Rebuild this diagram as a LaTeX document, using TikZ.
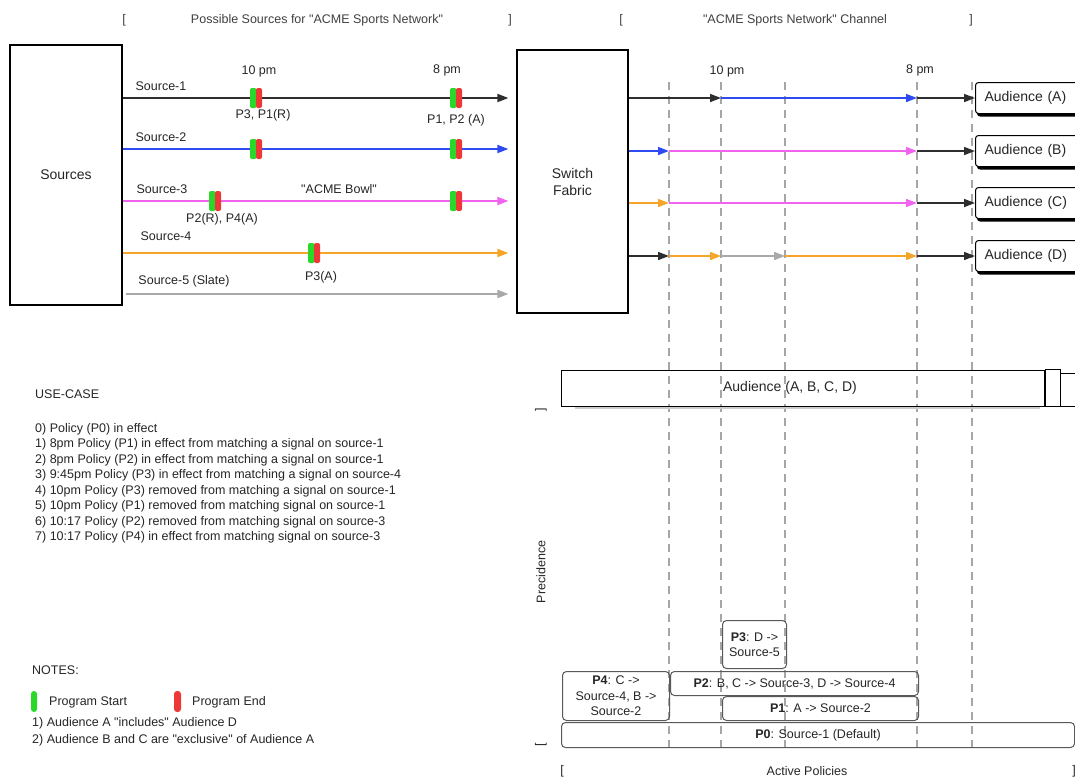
\documentclass[tikz,border=0pt]{standalone}
\usepackage{fontspec}
\setmainfont{Liberation Sans}
\usetikzlibrary{arrows.meta,shadows}

\definecolor{srcblue}{HTML}{2E4BF0}
\definecolor{srcpink}{HTML}{F064EE}
\definecolor{srcorange}{HTML}{F5A62A}
\definecolor{srcgray}{HTML}{A9A9A9}
\definecolor{mkgreen}{HTML}{2AD82A}
\definecolor{mkred}{HTML}{EE3838}
\definecolor{linedark}{HTML}{2E2E2E}

\begin{document}
\begin{tikzpicture}[x=1pt,y=-1pt,
    every node/.style={font=\fontsize{12.5}{15.5}\selectfont, text=black!85},
    bigbox/.style={draw, line width=1.2pt, align=center, font=\fontsize{14}{17}\selectfont},
    audbox/.style={draw, fill=white, line width=1pt, rounded corners=3pt, anchor=west,
        minimum height=31pt, text width=100pt, inner xsep=9pt, font=\fontsize{14}{17}\selectfont,
        drop shadow={shadow xshift=1.5pt, shadow yshift=-3pt, fill=black, opacity=1}},
    polbox/.style={draw=black!65, line width=1pt, rounded corners=4pt, anchor=north west,
        align=center, inner sep=1pt},
    srcline/.style={line width=1.8pt, shorten >=8pt, -{Triangle[length=11pt,width=8pt]}},
    segline/.style={line width=1.6pt, -{Triangle[length=11pt,width=8pt]}},
    colline/.style={draw=black!35, line width=1.3pt, dash pattern=on 8pt off 6pt}]
    \useasboundingbox (0,0) rectangle (1075,777);
    \fill[white] (0,0) rectangle (1075,777);

    % headers
    \node[text=black!75] (hl1) at (124,20) {[};
    \node[text=black!75] (hsrc) at (317,20) {Possible Sources for \textquotedbl ACME Sports Network\textquotedbl};
    \node[text=black!75] (hr1) at (510,20) {]};
    \node[text=black!75] (hl2) at (621,20) {[};
    \node[text=black!75] (hchan) at (795,20) {\textquotedbl ACME Sports Network\textquotedbl{} Channel};
    \node[text=black!75] (hr2) at (971,20) {]};

    % sources and switch
    \node[bigbox, minimum width=112pt, minimum height=260pt] (src) at (66,175) {Sources};
    \node[bigbox, minimum width=111pt, minimum height=263pt] (sw) at (572.5,181.5) {Switch\\Fabric};

    \coordinate (s1) at (0,98);
    \coordinate (s2) at (0,149);
    \coordinate (s3) at (0,201);
    \coordinate (s4) at (0,253);
    \coordinate (s5) at (0,294);
    \draw[srcline, linedark] (src.east |- s1) -- (sw.west |- s1);
    \draw[srcline, srcblue] (src.east |- s2) -- (sw.west |- s2);
    \draw[srcline, srcpink] (src.east |- s3) -- (sw.west |- s3);
    \draw[srcline, srcorange] (src.east |- s4) -- (sw.west |- s4);
    \draw[srcline, srcgray, shorten <=3pt] (src.east |- s5) -- (sw.west |- s5);

    \node (lb1) at (161,86) {Source-1};
    \node (lb2) at (161,137) {Source-2};
    \node (lb3) at (162,189) {Source-3};
    \node (lb4) at (166,236) {Source-4};
    \node (lb5) at (184,281) {Source-5 (Slate)};
    \node (tm10) at (259,71) {10 pm};
    \node (tm8) at (447,70) {8 pm};
    \node (ev1) at (263,115) {P3, P1(R)};
    \node (ev2) at (456,120) {P1, P2 (A)};
    \node (bowl) at (339,189) {\textquotedbl ACME Bowl\textquotedbl};
    \node (ev3) at (222,219) {P2(R), P4(A)};
    \node (ev4) at (321,277) {P3(A)};

    % program start / end markers
    \foreach \mx/\my in {256/98,456/98,256/149,456/149,215/201,456/201,314/253}{
        \fill[mkgreen, rounded corners=2pt] (\mx-6,\my-10) rectangle (\mx+0.5,\my+10);
        \fill[mkred, rounded corners=2pt] (\mx,\my-10) rectangle (\mx+6,\my+10);
    }

    % time columns of the channel
    \coordinate (k1) at (669,0);
    \coordinate (k2) at (721,0);
    \coordinate (k3) at (785,0);
    \coordinate (k4) at (917,0);
    \coordinate (k5) at (972,0);
    \coordinate (ktop) at (0,82);
    \coordinate (kbot) at (0,748);
    \foreach \k in {k1,k2,k3,k4,k5}
        \draw[colline] (\k |- ktop) -- (\k |- kbot);
    \node (tm10b) at (727,71) {10 pm};
    \node (tm8b) at (920,70) {8 pm};

    % audiences
    \coordinate (ra) at (0,98);
    \coordinate (rb) at (0,151);
    \coordinate (rc) at (0,203);
    \coordinate (rd) at (0,256);
    \node[audbox] (audA) at (975,98) {Audience (A)};
    \node[audbox] (audB) at (975,151) {Audience (B)};
    \node[audbox] (audC) at (975,203) {Audience (C)};
    \node[audbox] (audD) at (975,256) {Audience (D)};

    \draw[segline, linedark] (sw.east |- ra) -- (k2 |- ra);
    \draw[segline, srcblue] (k2 |- ra) -- (k4 |- ra);
    \draw[segline, linedark] (k4 |- ra) -- (audA.west);

    \draw[segline, srcblue] (sw.east |- rb) -- (k1 |- rb);
    \draw[segline, srcpink] (k1 |- rb) -- (k4 |- rb);
    \draw[segline, linedark] (k4 |- rb) -- (audB.west);

    \draw[segline, srcorange] (sw.east |- rc) -- (k1 |- rc);
    \draw[segline, srcpink] (k1 |- rc) -- (k4 |- rc);
    \draw[segline, linedark] (k4 |- rc) -- (audC.west);

    \draw[segline, linedark] (sw.east |- rd) -- (k1 |- rd);
    \draw[segline, srcorange] (k1 |- rd) -- (k2 |- rd);
    \draw[segline, srcgray] (k2 |- rd) -- (k3 |- rd);
    \draw[segline, srcorange] (k3 |- rd) -- (k4 |- rd);
    \draw[segline, linedark] (k4 |- rd) -- (audD.west);

    % all audiences
    \draw[black!20, line width=1.5pt] (575,408) -- (1040,408);
    \node[draw, line width=1pt, anchor=west, minimum width=483pt, minimum height=36pt] (audall) at (561,388) {};
    \node[font=\fontsize{14}{17}\selectfont] (audalltxt) at (790,388) {Audience (A, B, C, D)};
    \draw[line width=1pt] (audall.north east) rectangle (1060,406);
    \draw[line width=1pt] (1060,373) rectangle (1090,406);

    % precedence axis
    \node[rotate=90] (precr) at (541,410) {]};
    \node[rotate=90] (prec) at (541,572) {Precidence};
    \node[rotate=90] (precl) at (541,745) {[};

    % active policies
    \node[polbox, minimum width=64pt, minimum height=48pt] (p3) at (722,620) {\textbf{P3}: D ->\\Source-5};
    \node[polbox, minimum width=107pt, minimum height=49pt] (p4) at (562,671) {\textbf{P4}: C ->\\Source-4, B ->\\Source-2};
    \node[polbox, minimum width=248pt, minimum height=24pt] (p2) at (670,671) {\textbf{P2}: B, C -> Source-3, D -> Source-4};
    \node[polbox, minimum width=196pt, minimum height=24pt] (p1) at (722,696) {\textbf{P1}: A -> Source-2};
    \node[polbox, minimum width=513pt, minimum height=25pt] (p0) at (561,722) {\textbf{P0}: Source-1 (Default)};
    \node (actl) at (562,771) {[};
    \node (act) at (807,771) {Active Policies};
    \node (actr) at (1074,771) {]};

    % use case
    \node[anchor=west, inner sep=0pt] (uchead) at (35,394) {USE-CASE};
    \foreach \t [count=\i] in {
        {0) Policy (P0) in effect},
        {1) 8pm Policy (P1) in effect from matching a signal on source-1},
        {2) 8pm Policy (P2) in effect from matching a signal on source-1},
        {3) 9:45pm Policy (P3) in effect from matching a signal on source-4},
        {4) 10pm Policy (P3) removed from matching a signal on source-1},
        {5) 10pm Policy (P1) removed from matching signal on source-1},
        {6) 10:17 Policy (P2) removed from matching signal on source-3},
        {7) 10:17 Policy (P4) in effect from matching signal on source-3}}
        \node[anchor=west, inner sep=0pt] (uc\i) at (35,413.5+15.5*\i) {\t};

    % notes
    \node[anchor=west, inner sep=0pt] (nthead) at (32,670) {NOTES:};
    \fill[mkgreen, rounded corners=3pt] (31,691) rectangle (37,712);
    \node[anchor=west, inner sep=0pt] (pstart) at (49,702) {Program Start};
    \fill[mkred, rounded corners=3pt] (174,691) rectangle (181,712);
    \node[anchor=west, inner sep=0pt] (pend) at (192,702) {Program End};
    \node[anchor=west, inner sep=0pt] (nt1) at (32,723) {1) Audience A \textquotedbl includes\textquotedbl{} Audience D};
    \node[anchor=west, inner sep=0pt] (nt2) at (32,740) {2) Audience B and C are \textquotedbl exclusive\textquotedbl{} of Audience A};
\end{tikzpicture}
\end{document}
